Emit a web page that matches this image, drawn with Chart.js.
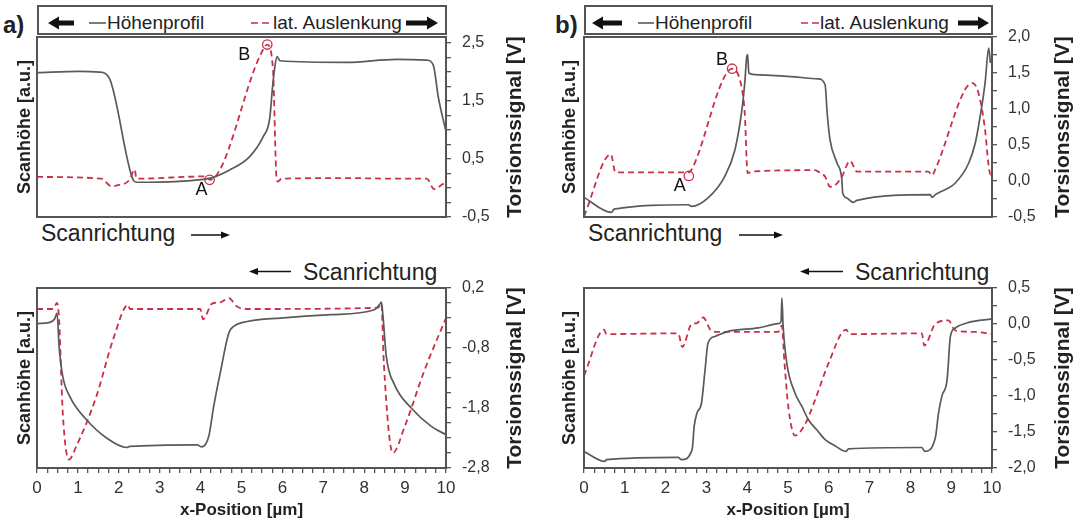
<!DOCTYPE html>
<html>
<head>
<meta charset="utf-8">
<script src="https://cdn.jsdelivr.net/npm/chart.js@4.4.1/dist/chart.umd.min.js"></script>
<style>
  body { margin: 0; width: 1074px; height: 524px; position: relative; background: #fff; overflow: hidden;
         font-family: Arial, "Liberation Sans", sans-serif; }
  canvas { position: absolute; }
  .t { position: absolute; white-space: nowrap; line-height: 1; color: #222; }
  .legend { position: absolute; top: 5px; height: 30px; border: 2px solid #555; box-sizing: border-box; }
  svg { position: absolute; left: 0; top: 0; }
</style>
</head>
<body>

<div class="t" style="left:3px;top:13px;font-size:24px;font-weight:bold;">a)</div>
<div class="t" style="left:555px;top:13px;font-size:24px;font-weight:bold;">b)</div>

<div class="legend" style="left:37px;width:410px;"></div>
<div class="legend" style="left:584px;width:409px;"></div>
<div class="t" style="left:107px;top:13px;font-size:19px;">Höhenprofil</div>
<div class="t" style="left:273px;top:13px;font-size:19px;">lat. Auslenkung</div>
<div class="t" style="left:655px;top:13px;font-size:19px;">Höhenprofil</div>
<div class="t" style="left:820px;top:13px;font-size:19px;">lat. Auslenkung</div>

<div class="t" style="left:41px;top:222px;font-size:23px;">Scanrichtung</div>
<div class="t" style="left:588px;top:222px;font-size:23px;">Scanrichtung</div>
<div class="t" style="left:303px;top:261px;font-size:23px;">Scanrichtung</div>
<div class="t" style="left:855px;top:261px;font-size:23px;">Scanrichtung</div>

<canvas id="aTop" width="540" height="200" style="left:0;top:27px;"></canvas>
<canvas id="bTop" width="534" height="200" style="left:540px;top:27px;"></canvas>
<canvas id="aBot" width="540" height="246" style="left:0;top:278px;"></canvas>
<canvas id="bBot" width="534" height="246" style="left:540px;top:278px;"></canvas>

<svg width="1074" height="524">
  <!-- legend arrows -->
  <polygon points="48,23 59,16.5 59,29.5" fill="#111"/><rect x="58" y="20.5" width="16" height="5" fill="#111"/>
  <polygon points="438,23 427,16.5 427,29.5" fill="#111"/><rect x="406" y="20.5" width="22" height="5" fill="#111"/>
  <polygon points="592,23 603,16.5 603,29.5" fill="#111"/><rect x="602" y="20.5" width="20" height="5" fill="#111"/>
  <polygon points="989,23 978,16.5 978,29.5" fill="#111"/><rect x="958" y="20.5" width="21" height="5" fill="#111"/>
  <!-- legend samples -->
  <line x1="89" y1="23" x2="106" y2="23" stroke="#5a5a5a" stroke-width="1.6"/>
  <line x1="251" y1="23" x2="273" y2="23" stroke="#c83048" stroke-width="1.6" stroke-dasharray="7,4"/>
  <line x1="638" y1="23" x2="654" y2="23" stroke="#5a5a5a" stroke-width="1.6"/>
  <line x1="801" y1="23" x2="820" y2="23" stroke="#c83048" stroke-width="1.6" stroke-dasharray="7,4"/>
  <!-- scan direction arrows -->
  <line x1="191" y1="235" x2="226" y2="235" stroke="#111" stroke-width="1.4"/><polygon points="230,235 221,231.5 221,238.5" fill="#111"/>
  <line x1="739" y1="235" x2="779" y2="235" stroke="#111" stroke-width="1.4"/><polygon points="783,235 774,231.5 774,238.5" fill="#111"/>
  <line x1="253" y1="271.5" x2="291" y2="271.5" stroke="#111" stroke-width="1.4"/><polygon points="249,271.5 258,268 258,275" fill="#111"/>
  <line x1="804" y1="271.5" x2="843" y2="271.5" stroke="#111" stroke-width="1.4"/><polygon points="800,271.5 809,268 809,275" fill="#111"/>
</svg>

<script>
// x axis (µm)
const xLabels = [0, 1, 2, 3, 4, 5, 6, 7, 8, 9, 10];
const xMinorStep = 0.25;

// a) top: trace direction ->
const aTopHx = [0, 1.04, 1.53, 1.77, 2.35, 2.43, 4.22, 4.71, 5.20, 5.53, 5.69, 5.76, 5.81, 5.87, 5.94, 7.57, 8.79, 9.53, 9.69, 9.81, 10];
const aTopH  = [8.02, 8.09, 8.05, 7.7, 2.06, 1.93, 2.15, 2.61, 3.35, 4.46, 5.48, 7.24, 8.26, 8.91, 8.68, 8.59, 8.76, 8.72, 8.44, 6.68, 4.74];
const aTopTx = [0, 1.57, 1.82, 1.94, 2.26, 2.39, 2.43, 4.14, 4.22, 5.45, 5.63, 5.77, 5.86, 5.89, 5.98, 7.57, 8.79, 9.53, 9.71, 9.93, 10];
const aTopT  = [0.19, 0.16, 0.03, 0.04, 0.14, 0.32, 0.16, 0.2, 0.14, 2.27, 2.47, 2.04, 0.14, 0.11, 0.16, 0.17, 0.16, 0.16, -0.02, 0.07, 0.09];
const aTopMarkX = [4.22, 5.63];
const aTopMarkY = [0.14, 2.47];
const aTopMarkNames = ['A', 'B'];
const aTopTickLabels = [-0.5, 0.5, 1.5, 2.5];

// b) top
const bTopHx = [0, 0.67, 0.74, 2.55, 2.64, 3.04, 3.45, 3.70, 3.86, 3.94, 3.99, 4.01, 4.04, 4.19, 4.68, 5.74, 5.91, 5.96, 6.03, 6.20, 6.32, 6.34, 6.44, 6.60, 6.69, 8.49, 8.53, 8.61, 9.10, 9.43, 9.59, 9.71, 9.83, 9.92, 9.96];
const bTopH  = [1.09, 0.26, 0.44, 0.68, 0.59, 1.06, 2.26, 3.74, 5.78, 7.44, 8.92, 9.02, 8.0, 7.91, 7.85, 7.67, 7.35, 5.78, 4.29, 3.0, 2.07, 1.33, 1.06, 0.81, 0.92, 1.24, 1.09, 1.24, 1.89, 3.0, 4.11, 5.59, 7.44, 9.39, 8.56];
const bTopTx = [0, 0.66, 0.77, 2.55, 2.64, 3.41, 3.63, 3.86, 3.94, 4.01, 4.11, 5.66, 5.74, 5.91, 6.03, 6.15, 6.32, 6.52, 6.69, 8.44, 8.53, 8.61, 9.34, 9.52, 9.67, 9.83, 9.91, 9.96, 10];
const bTopT  = [-0.49, 0.37, 0.12, 0.12, 0.16, 1.41, 1.56, 1.31, 0.94, 0.11, 0.13, 0.15, 0.13, 0.06, -0.08, -0.06, 0.06, 0.28, 0.13, 0.13, 0.08, 0.16, 1.27, 1.36, 1.22, 0.71, 0.25, 0.09, 0.16];
const bTopMarkX = [2.57, 3.63];
const bTopMarkY = [0.07, 1.56];
const bTopMarkNames = ['A', 'B'];
const bTopTickLabels = [-0.5, 0, 0.5, 1, 1.5, 2];

// a) bottom: retrace direction <-
const aBotHx = [0, 0.31, 0.43, 0.49, 0.54, 0.63, 0.80, 1.21, 1.70, 2.19, 2.27, 3.91, 4.03, 4.20, 4.32, 4.48, 4.69, 4.81, 5.14, 5.96, 7.19, 8.25, 8.37, 8.42, 8.46, 8.54, 8.74, 9.15, 9.64, 10];
const aBotH  = [8.02, 8.09, 8.28, 8.61, 6.76, 5.09, 3.98, 2.68, 1.67, 1.14, 1.2, 1.29, 1.17, 1.76, 3.42, 5.28, 7.5, 7.87, 8.14, 8.33, 8.52, 8.79, 9.07, 9.22, 8.42, 6.2, 4.63, 3.33, 2.31, 1.85];
const aBotTx = [0, 0.39, 0.49, 0.54, 0.63, 0.78, 0.96, 1.45, 1.86, 2.23, 2.27, 3.99, 4.06, 4.28, 4.48, 4.69, 4.89, 5.14, 8.33, 8.42, 8.48, 8.70, 8.99, 9.48, 10];
const aBotT  = [-0.15, -0.15, -0.05, -0.33, -1.88, -2.66, -2.44, -1.61, -0.66, -0.08, -0.15, -0.15, -0.32, -0.06, -0.04, 0.03, -0.11, -0.15, -0.13, -0.06, -1.05, -2.55, -2.11, -1.16, -0.3];
const aBotTickLabels = [-2.8, -1.8, -0.8, 0.2];

// b) bottom
const bBotHx = [0, 0.51, 0.55, 2.31, 2.39, 2.65, 2.70, 2.77, 2.88, 2.96, 3.04, 3.21, 3.53, 4.27, 4.76, 4.83, 4.85, 4.88, 4.97, 5.17, 5.34, 5.50, 5.74, 5.91, 6.15, 6.42, 6.48, 8.28, 8.35, 8.61, 8.69, 8.77, 8.90, 8.98, 9.10, 9.43, 10];
const bBotH  = [0.92, 0.37, 0.46, 0.59, 0.46, 1.02, 2.31, 3.06, 3.61, 5.28, 6.94, 7.31, 7.59, 7.78, 8.02, 8.14, 9.44, 7.9, 5.83, 4.17, 3.42, 2.68, 2.03, 1.57, 1.24, 0.92, 1.06, 1.14, 0.92, 1.67, 3.06, 3.98, 4.91, 7.31, 7.78, 8.09, 8.28];
const bBotTx = [0, 0.49, 0.55, 2.31, 2.41, 2.64, 2.76, 2.92, 3.13, 3.29, 4.76, 4.85, 4.91, 5.01, 5.17, 5.42, 5.66, 5.99, 6.42, 6.52, 8.28, 8.34, 8.61, 8.93, 9.10, 9.59, 10];
const bBotT  = [-0.72, -0.08, -0.14, -0.13, -0.32, 0.0, 0.01, 0.09, -0.1, -0.11, -0.11, -0.02, -0.51, -1.16, -1.55, -1.39, -1.06, -0.55, -0.08, -0.14, -0.13, -0.3, 0.0, 0.05, -0.09, -0.11, -0.14];
const bBotTickLabels = [-2, -1.5, -1, -0.5, 0, 0.5];

const GREY = '#5a5a5a';
const RED = '#c83048';
Chart.defaults.font.family = 'Arial, "Liberation Sans", sans-serif';

const pts = (xs, ys) => xs.map((x, i) => ({ x: x, y: ys[i] }));
const fmt = v => v.toFixed(1).replace('.', ',');
const isLabel = (labels, v) => labels.some(l => Math.abs(l - v) < 1e-6);
function tickRange(from, to, step) {
  const out = [];
  const n = Math.round((to - from) / step);
  for (let i = 0; i <= n; i++) out.push(Math.round((from + i * step) * 1000) / 1000);
  return out;
}
function noPad(s) {
  s.paddingTop = 0; s.paddingBottom = 0; s.paddingLeft = 0; s.paddingRight = 0;
}

// box around the plot, right axis title, A/B labels
const extras = {
  id: 'extras',
  afterDraw(chart, args, o) {
    const { ctx, chartArea: a } = chart;
    ctx.save();
    ctx.strokeStyle = '#555';
    ctx.lineWidth = 2;
    ctx.strokeRect(a.left, a.top, a.right - a.left, a.bottom - a.top);

    ctx.fillStyle = '#222';
    ctx.font = 'bold 21px Arial, "Liberation Sans", sans-serif';
    ctx.textAlign = 'center';
    ctx.textBaseline = 'middle';
    ctx.translate(a.right + o.titleOffset, (a.top + a.bottom) / 2);
    ctx.rotate(-Math.PI / 2);
    ctx.fillText('Torsionssignal [V]', 0, 0);
    ctx.restore();

    if (o.names) {
      const meta = chart.getDatasetMeta(2);
      ctx.save();
      ctx.fillStyle = '#111';
      ctx.font = '18px Arial, "Liberation Sans", sans-serif';
      ctx.textAlign = 'center';
      ctx.textBaseline = 'middle';
      o.names.forEach((n, i) => {
        const el = meta.data[i];
        ctx.fillText(n, el.x + o.offsets[i][0], el.y + o.offsets[i][1]);
      });
      ctx.restore();
    }
  }
};

function panel(id, o) {
  const datasets = [
    { data: pts(o.hx, o.h), yAxisID: 'yL', borderColor: GREY, borderWidth: 1.7, pointRadius: 0,
      cubicInterpolationMode: 'monotone' },
    { data: pts(o.tx, o.t), yAxisID: 'yR', borderColor: RED, borderWidth: 1.8, borderDash: [6, 4], pointRadius: 0,
      cubicInterpolationMode: 'monotone' }
  ];
  if (o.markX) {
    datasets.push({ data: pts(o.markX, o.markY), yAxisID: 'yR', showLine: false, pointRadius: 4.7,
      pointStyle: 'circle', pointBackgroundColor: 'rgba(0,0,0,0)', pointBorderColor: RED, pointBorderWidth: 1.3 });
  }
  const tickOpts = { font: { size: 16 }, color: '#333' };
  return new Chart(document.getElementById(id), {
    type: 'line',
    data: { datasets: datasets },
    options: {
      responsive: false,
      maintainAspectRatio: false,
      animation: false,
      events: [],
      layout: { padding: { top: 10, bottom: o.bottomAxis ? 0 : 10, left: 0, right: 0 } },
      plugins: {
        legend: { display: false },
        tooltip: { enabled: false },
        extras: { titleOffset: o.titleOffset, names: o.names, offsets: o.offsets }
      },
      scales: {
        x: {
          type: 'linear', min: 0, max: 10,
          display: !!o.bottomAxis,
          afterBuildTicks: s => { s.ticks = tickRange(0, 10, xMinorStep).map(v => ({ value: v })); },
          afterFit: s => { s.height = o.bottomAxis ? 56 : 0; noPad(s); },
          ticks: { autoSkip: false, maxRotation: 0, padding: 5, font: { size: 17 }, color: '#333',
                   callback: v => isLabel(xLabels, v) ? String(v) : '' },
          grid: { drawOnChartArea: false, tickLength: 5, color: '#555', lineWidth: 1.3 },
          border: { display: false },
          title: { display: true, text: 'x-Position [µm]', color: '#222',
                   font: { size: 17, weight: 'bold' }, padding: { top: 0, bottom: 3 } }
        },
        yL: {
          position: 'left', min: 0, max: 10,
          afterFit: s => { s.width = o.leftW; noPad(s); },
          ticks: { display: false },
          grid: { display: false },
          border: { display: false },
          title: { display: true, text: 'Scanhöhe [a.u.]', color: '#222',
                   font: { size: 18, weight: 'bold' }, padding: { top: o.leftTitlePad, bottom: 0 } }
        },
        yR: {
          position: 'right', min: o.rMin, max: o.rMax,
          afterBuildTicks: s => { s.ticks = tickRange(o.tMin, o.tMax, 0.25).map(v => ({ value: v })); },
          afterFit: s => { s.width = o.rightW; noPad(s); },
          ticks: Object.assign({ autoSkip: false, padding: 11,
                   callback: v => isLabel(o.labels, v) ? fmt(v) : '' }, tickOpts),
          grid: { drawOnChartArea: false, tickLength: 5, color: '#555', lineWidth: 1.3 },
          border: { display: false }
        }
      }
    },
    plugins: [extras]
  });
}

panel('aTop', { hx: aTopHx, h: aTopH, tx: aTopTx, t: aTopT, markX: aTopMarkX, markY: aTopMarkY,
  names: aTopMarkNames, offsets: [[-8, 10], [-23, 10]],
  rMin: -0.5, rMax: 2.6, tMin: -0.5, tMax: 2.5, labels: aTopTickLabels,
  leftW: 37, rightW: 94, leftTitlePad: 14, titleOffset: 69, bottomAxis: false });

panel('bTop', { hx: bTopHx, h: bTopH, tx: bTopTx, t: bTopT, markX: bTopMarkX, markY: bTopMarkY,
  names: bTopMarkNames, offsets: [[-9, 10], [-10, -9]],
  rMin: -0.5, rMax: 2.0, tMin: -0.5, tMax: 2.0, labels: bTopTickLabels,
  leftW: 44, rightW: 82, leftTitlePad: 19, titleOffset: 71, bottomAxis: false });

panel('aBot', { hx: aBotHx, h: aBotH, tx: aBotTx, t: aBotT,
  rMin: -2.8, rMax: 0.2, tMin: -2.8, tMax: 0.2, labels: aBotTickLabels,
  leftW: 37, rightW: 94, leftTitlePad: 14, titleOffset: 69, bottomAxis: true });

panel('bBot', { hx: bBotHx, h: bBotH, tx: bBotTx, t: bBotT,
  rMin: -2.0, rMax: 0.5, tMin: -2.0, tMax: 0.5, labels: bBotTickLabels,
  leftW: 44, rightW: 82, leftTitlePad: 19, titleOffset: 71, bottomAxis: true });
</script>
</body>
</html>
